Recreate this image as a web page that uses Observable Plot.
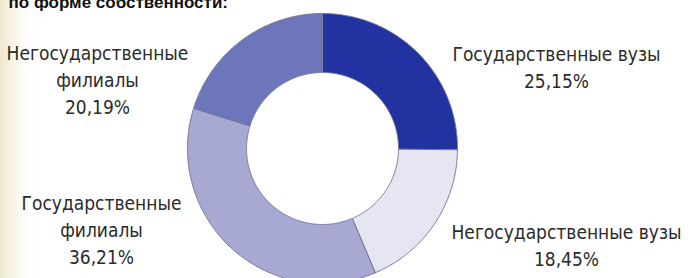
<!DOCTYPE html>
<html><head><meta charset="utf-8">
<script src="https://cdn.jsdelivr.net/npm/d3@7"></script>
<script src="https://cdn.jsdelivr.net/npm/@observablehq/plot@0.6"></script>
<style>
html,body{margin:0;padding:0;width:690px;height:278px;overflow:hidden;
background:linear-gradient(to right,#eee7cb 0px,#f7f3e3 10px,#fdfcf8 24px,#ffffff 40px);}
svg{display:block;background:transparent;}
</style></head><body><div id="chart"></div>
<script>
const title = "по форме собственности:";
const categories = ["Государственные вузы","Негосударственные вузы","Государственные филиалы","Негосударственные филиалы"];
const shares = [25.15, 18.45, 36.21, 20.19];
const shareLabels = ["25,15%","18,45%","36,21%","20,19%"];
const labelNames = ["Государственные вузы","Негосударственные вузы","Государственные\nфилиалы","Негосударственные\nфилиалы"];
const colors = ["#2232a0","#e6e6f2","#a7a9d2","#6e76bb"];

// layout (pixels)
const W = 690, H = 278;
const cx = 322, cy = 148, rOuter = 135, rInner = 76;
const labelPos = [[556, 87], [566, 265], [101, 263], [97, 113]];

const arcs = d3.pie().sort(null).value(d => d)(shares);
const slices = arcs.map((a, i) => {
  const n = Math.max(8, Math.ceil((a.endAngle - a.startAngle) / 0.01));
  const p = [];
  for (let k = 0; k <= n; k++) {
    const t = a.startAngle + (a.endAngle - a.startAngle) * k / n;
    p.push({x: cx + rOuter * Math.sin(t), y: cy - rOuter * Math.cos(t)});
  }
  for (let k = n; k >= 0; k--) {
    const t = a.startAngle + (a.endAngle - a.startAngle) * k / n;
    p.push({x: cx + rInner * Math.sin(t), y: cy - rInner * Math.cos(t)});
  }
  p.push(p[0]);
  return p;
});

const labels = categories.map((c, i) => ({
  x: labelPos[i][0], y: labelPos[i][1], text: labelNames[i] + "\n" + shareLabels[i]
}));

const font = "'Liberation Sans Narrow','Arial Narrow','DejaVu Sans Condensed',sans-serif";

const chart = Plot.plot({
  width: W, height: H, margin: 0,
  x: {domain: [0, W], range: [0, W], axis: null},
  y: {domain: [0, H], range: [0, H], axis: null},
  style: {background: "transparent"},
  marks: [
    ...slices.map((p, i) => Plot.line(p, {x: "x", y: "y", fill: colors[i], stroke: "#76779a", strokeWidth: 1, curve: "linear"})),
    Plot.text(labels, {x: "x", y: "y", text: "text", lineAnchor: "bottom", lineHeight: 1.42,
      fontSize: 19, fontFamily: font, fill: "#2b2b2b", textAnchor: "middle"}),
    Plot.text([title], {x: () => 8, y: () => 7.5, text: d => d, textAnchor: "start", lineAnchor: "bottom",
      fontSize: 17, fontWeight: "bold", fontFamily: "'Liberation Sans',Arial,sans-serif", fill: "#111"})
  ]
});
document.getElementById("chart").appendChild(chart);
</script></body></html>
